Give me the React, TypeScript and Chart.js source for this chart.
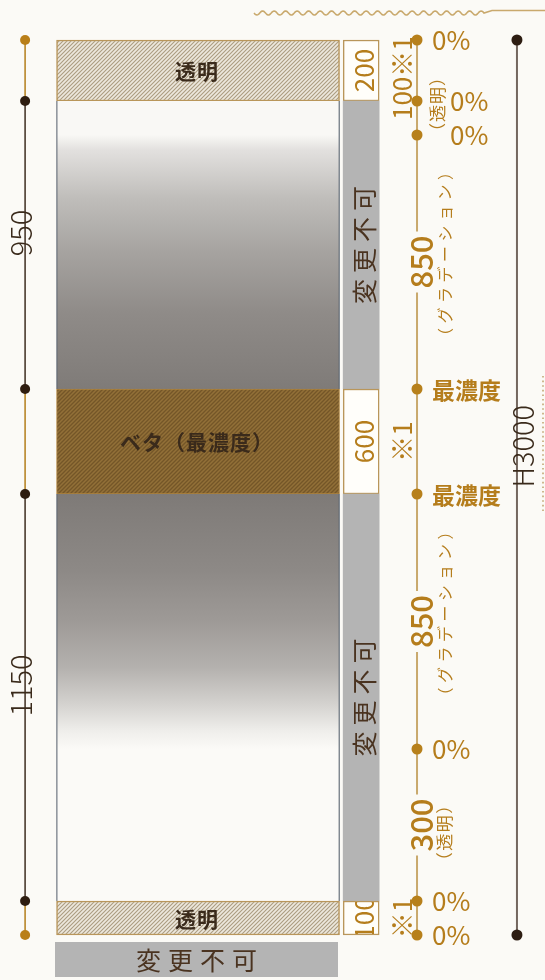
import React, { useEffect, useRef } from 'react';
import { Chart, registerables, LinearScale } from 'chart.js';

Chart.register(...registerables);

// ---------------- data (mm, top to bottom) ----------------
const panelLabels = ['透明', '', 'ベタ（最濃度）', '', '透明'];
const panelKinds = ['clear', 'fadeIn', 'solid', 'fadeOut', 'clear'];
const panelHeights = [200, 950, 600, 1150, 100];

const fixedLabels = ['200', '変更不可', '600', '変更不可', '100'];
const fixedKinds = ['box', 'gray', 'box', 'gray', 'box'];

const leftDimLabels = ['', '950', '', '1150', ''];

const stepHeights = [200, 100, 850, 600, 850, 300, 100];
const stepLabels = ['', '100※1', '850', '※1', '850', '300', '※1'];
const stepNotes = ['', '（透明）', '（グラデーション）', '', '（グラデーション）', '（透明）', ''];
const stopLabels = ['0%', '0%', '0%', '最濃度', '最濃度', '0%', '0%', '0%'];

const totalLabel = 'H3000';
const footerLabel = '変更不可';

// ---------------- layout / style ----------------
const W = 545;
const H = 980;
const TOP = 40;
const BOTTOM = 935;
// schematic (non-proportional) pixel rows of the step boundaries
const KNOT_PX = [40, 101, 135, 389, 494, 749, 901, 935];

const LEFT_DIM_X = 20;
const PANEL_X0 = 55;
const PANEL_X1 = 338;
const FIX_X0 = 345;
const FIX_X1 = 381;
const NOTE_X = 401;
const AXIS_X = 420;
const STOP_TEXT_X = 432;
const STOP_TEXT_X_SHIFTED = 450;
const NOTE2_X = 444;
const NOTE2_X_TIGHT = 437;
const H_X = 522;

const BG = '#fbfaf6';
const GOLD = '#b57d1c';
const GOLD_LINE = '#c9a96d';
const DARK = '#3a2a1b';
const GRAY = '#b4b4b4';
const FONT = '"Noto Sans CJK JP", "Noto Sans", sans-serif';

const cumsum = (a: number[]) => {
  const out = [0];
  a.forEach((v) => out.push(out[out.length - 1] + v));
  return out;
};
const panelBounds = cumsum(panelHeights);
const stepBounds = cumsum(stepHeights);
const TOTAL = stepBounds[stepBounds.length - 1];
const KNOTS = stepBounds.map((v, i) => [v, (KNOT_PX[i] - TOP) / (BOTTOM - TOP)]);

class SchematicScale extends LinearScale {
  static id = 'schematic';
  _frac(value: number): number {
    const k = KNOTS;
    for (let i = 0; i < k.length - 1; i++) {
      const [v0, f0] = k[i];
      const [v1, f1] = k[i + 1];
      if (value <= v1 || i === k.length - 2) return f0 + ((value - v0) / (v1 - v0)) * (f1 - f0);
    }
    return 0;
  }
  getPixelForValue(value: number) {
    if (value === null || value === undefined || isNaN(value)) return NaN;
    const s = this as any;
    return s.top + this._frac(value) * (s.bottom - s.top);
  }
  getValueForPixel(pixel: number) {
    const s = this as any;
    const f = (pixel - s.top) / (s.bottom - s.top);
    const k = KNOTS;
    for (let i = 0; i < k.length - 1; i++) {
      const [v0, f0] = k[i];
      const [v1, f1] = k[i + 1];
      if (f <= f1 || i === k.length - 2) return v0 + ((f - f0) / (f1 - f0)) * (v1 - v0);
    }
    return 0;
  }
}
Chart.register(SchematicScale as any);

function makeHatch(base: string, line: string, size: number, lw: number) {
  const c = document.createElement('canvas');
  c.width = size;
  c.height = size;
  const g = c.getContext('2d')!;
  g.fillStyle = base;
  g.fillRect(0, 0, size, size);
  g.strokeStyle = line;
  g.lineWidth = lw;
  g.beginPath();
  g.moveTo(0, size);
  g.lineTo(size, 0);
  g.moveTo(-size / 2, size / 2);
  g.lineTo(size / 2, -size / 2);
  g.moveTo(size / 2, size * 1.5);
  g.lineTo(size * 1.5, size / 2);
  g.stroke();
  return g.createPattern(c, 'repeat')!;
}

type TOpt = {
  font: string;
  color: string;
  rot?: boolean;
  ls?: number;
  align?: 'left' | 'center' | 'right';
  gap?: number;
  gh?: number;
};

function txt(ctx: CanvasRenderingContext2D, s: string, x: number, y: number, o: TOpt) {
  ctx.save();
  ctx.translate(x, y);
  if (o.rot) ctx.rotate(-Math.PI / 2);
  ctx.font = o.font;
  ctx.textBaseline = 'middle';
  ctx.textAlign = 'left';
  const ls = o.ls || 0;
  (ctx as any).letterSpacing = ls + 'px';
  const w = ctx.measureText(s).width - ls;
  const x0 = o.align === 'left' ? 0 : o.align === 'right' ? -w : -w / 2;
  if (o.gap) {
    ctx.fillStyle = BG;
    ctx.fillRect(x0 - o.gap, -(o.gh || 10) / 2, w + 2 * o.gap, o.gh || 10);
  }
  ctx.fillStyle = o.color;
  ctx.fillText(s, x0, 1);
  ctx.restore();
}

const bgPlugin = {
  id: 'bgPlugin',
  beforeDraw(chart: any) {
    const ctx = chart.ctx as CanvasRenderingContext2D;
    ctx.save();
    ctx.fillStyle = BG;
    ctx.fillRect(0, 0, chart.width, chart.height);
    // wavy cut line at top
    ctx.strokeStyle = GOLD_LINE;
    ctx.lineWidth = 1.6;
    ctx.beginPath();
    for (let x = 254; x <= 484; x += 1) {
      const y = 13 + 2 * Math.sin(((x - 254) / 11.5) * Math.PI * 2);
      if (x === 254) ctx.moveTo(x, y);
      else ctx.lineTo(x, y);
    }
    ctx.lineTo(492, 10.5);
    ctx.lineTo(W, 10.5);
    ctx.stroke();
    // dotted edge at far right
    ctx.strokeStyle = '#cdb88e';
    ctx.lineWidth = 2;
    ctx.setLineDash([1.6, 3]);
    ctx.beginPath();
    ctx.moveTo(543, 376);
    ctx.lineTo(543, 512);
    ctx.stroke();
    ctx.restore();
  },
};

const textPlugin = {
  id: 'textPlugin',
  afterDatasetsDraw(chart: any) {
    const ctx = chart.ctx as CanvasRenderingContext2D;
    const y = chart.scales.y;
    const ca = chart.chartArea;
    const py = (v: number) => y.getPixelForValue(v);
    const panelCx = (PANEL_X0 + PANEL_X1) / 2;
    const fixCx = (FIX_X0 + FIX_X1) / 2;

    // panel labels
    panelLabels.forEach((s, i) => {
      if (!s) return;
      const cy = (py(panelBounds[i]) + py(panelBounds[i + 1])) / 2;
      txt(ctx, s, panelCx, cy, { font: `bold 21px ${FONT}`, color: DARK, ls: 1 });
    });

    // fixed column labels
    fixedLabels.forEach((s, i) => {
      const y0 = py(panelBounds[i]);
      const y1 = py(panelBounds[i + 1]);
      const cy = (y0 + y1) / 2;
      ctx.save();
      ctx.beginPath();
      ctx.rect(FIX_X0 + 1, y0 + 1, FIX_X1 - FIX_X0 - 2, y1 - y0 - 2);
      ctx.clip();
      if (fixedKinds[i] === 'box') {
        txt(ctx, s, fixCx, cy, { font: `26px ${FONT}`, color: GOLD, rot: true });
      } else {
        txt(ctx, s, fixCx, cy, { font: `25px ${FONT}`, color: '#4a3320', rot: true, ls: 6 });
      }
      ctx.restore();
    });

    // left dimension labels
    leftDimLabels.forEach((s, i) => {
      if (!s) return;
      const cy = (py(panelBounds[i]) + py(panelBounds[i + 1])) / 2 - 12;
      txt(ctx, s, LEFT_DIM_X, cy, { font: `300 29px ${FONT}`, color: DARK, rot: true, gap: 5, gh: 8 });
    });

    // step labels on the gold axis
    stepLabels.forEach((s, i) => {
      if (!s) return;
      const y0 = py(stepBounds[i]);
      const y1 = py(stepBounds[i + 1]);
      const cy = (y0 + y1) / 2;
      if (s.indexOf('※') >= 0) {
        if (y1 - y0 < 60 && i < 3) {
          txt(ctx, s, NOTE_X, y1 - 15, { font: `26px ${FONT}`, color: GOLD, rot: true, align: 'left' });
        } else {
          txt(ctx, s, NOTE_X, cy, { font: `26px ${FONT}`, color: GOLD, rot: true });
        }
      } else {
        txt(ctx, s, AXIS_X, cy, { font: `500 31px ${FONT}`, color: GOLD, rot: true, gap: 4, gh: 8 });
      }
    });

    // notes
    stepNotes.forEach((s, i) => {
      if (!s) return;
      const y0 = py(stepBounds[i]);
      const y1 = py(stepBounds[i + 1]);
      const cy = (y0 + y1) / 2;
      if (y1 - y0 < 60) {
        txt(ctx, s, NOTE2_X_TIGHT, y1 + 5, { font: `17px ${FONT}`, color: GOLD, rot: true, align: 'left', ls: 1 });
      } else if (s.length < 6) {
        txt(ctx, s, NOTE2_X, cy + 8, { font: `17px ${FONT}`, color: GOLD, rot: true, ls: 1.5 });
      } else {
        txt(ctx, s, NOTE2_X, cy - 8, { font: `16px ${FONT}`, color: GOLD, rot: true, ls: 4.5 });
      }
    });

    // stop labels (shifted right where a short note sits beside the axis)
    stopLabels.forEach((s, i) => {
      const sy = py(stepBounds[i]);
      const crowded =
        (i > 0 && stepNotes[i - 1] && py(stepBounds[i]) - py(stepBounds[i - 1]) < 60) ||
        (stepNotes[i] && py(stepBounds[i + 1]) - py(stepBounds[i]) < 60);
      const x = crowded ? STOP_TEXT_X_SHIFTED : STOP_TEXT_X;
      if (s === '0%') txt(ctx, s, x, sy - 1, { font: `26px ${FONT}`, color: GOLD, align: 'left' });
      else txt(ctx, s, x, sy, { font: `bold 23px ${FONT}`, color: GOLD, align: 'left' });
    });

    // total height label
    txt(ctx, totalLabel, H_X, py(TOTAL / 2) - 4, { font: `300 29px ${FONT}`, color: DARK, rot: true, gap: 6, gh: 8 });

    // footer
    ctx.save();
    ctx.fillStyle = GRAY;
    ctx.fillRect(PANEL_X0, ca.bottom + 7, PANEL_X1 - PANEL_X0, 35);
    ctx.restore();
    txt(ctx, footerLabel, panelCx, ca.bottom + 24.5, { font: `25px ${FONT}`, color: '#4a3320', ls: 7 });
  },
};

export default function App() {
  const ref = useRef<HTMLCanvasElement>(null);

  useEffect(() => {
    const canvas = ref.current;
    if (!canvas) return;
    const hatchClear = makeHatch('#ede8dd', '#ab9c80', 4, 1.1);
    const hatchSolid = makeHatch('#927038', '#745628', 4, 1.3);

    const gradFor = (c: any, i: number) => {
      const chart = c.chart;
      const yS = chart.scales.y;
      if (!yS || !chart.chartArea) return '#9a9693';
      let j = stepNotes.findIndex(
        (n, k) => n === '（グラデーション）' && stepBounds[k] >= panelBounds[i] && stepBounds[k + 1] <= panelBounds[i + 1]
      );
      if (j < 0) j = 0;
      const g = chart.ctx.createLinearGradient(0, yS.getPixelForValue(stepBounds[j]), 0, yS.getPixelForValue(stepBounds[j + 1]));
      if (panelKinds[i] === 'fadeIn') {
        g.addColorStop(0, '#f9f8f5');
        g.addColorStop(0.06, '#e2e0de');
        g.addColorStop(0.25, '#bfbdba');
        g.addColorStop(0.45, '#a7a4a1');
        g.addColorStop(0.7, '#8f8b88');
        g.addColorStop(1, '#7f7b78');
      } else {
        g.addColorStop(0, '#7e7a77');
        g.addColorStop(0.3, '#8d8986');
        g.addColorStop(0.5, '#9e9a97');
        g.addColorStop(0.68, '#b4b1ae');
        g.addColorStop(0.82, '#d3d1ce');
        g.addColorStop(0.93, '#efeeeb');
        g.addColorStop(1, '#fbfaf7');
      }
      return g;
    };

    const panelCx = (PANEL_X0 + PANEL_X1) / 2;
    const fixCx = (FIX_X0 + FIX_X1) / 2;

    const chart = new Chart(canvas, {
      type: 'bar',
      data: {
        datasets: [
          {
            type: 'line',
            label: 'left-dim',
            data: panelBounds.map((v) => ({ x: LEFT_DIM_X, y: v })),
            borderWidth: 1.6,
            borderColor: DARK,
            segment: {
              borderColor: (c: any) => (leftDimLabels[c.p0DataIndex] ? '#4a3a2e' : '#b8862a'),
            },
            pointRadius: 5,
            pointBorderWidth: 0,
            pointBackgroundColor: panelBounds.map((_, i) => (i === 0 || i === panelBounds.length - 1 ? '#b97f18' : '#2e1d10')),
            tension: 0,
            clip: false,
            order: 0,
          } as any,
          {
            type: 'line',
            label: 'steps',
            data: stepBounds.map((v) => ({ x: AXIS_X, y: v })),
            borderWidth: 2,
            borderColor: GOLD_LINE,
            pointRadius: 5.5,
            pointBorderWidth: 0,
            pointBackgroundColor: '#b7801b',
            tension: 0,
            clip: false,
            order: 0,
          } as any,
          {
            type: 'line',
            label: 'total',
            data: [0, TOTAL].map((v) => ({ x: H_X, y: v })),
            borderWidth: 2,
            borderColor: '#74675f',
            pointRadius: 5.5,
            pointBorderWidth: 0,
            pointBackgroundColor: '#2d1d12',
            clip: false,
            order: 0,
          } as any,
          {
            label: 'panel',
            data: panelHeights.map((_, i) => ({ x: panelCx, y: [panelBounds[i], panelBounds[i + 1]] })) as any,
            barThickness: PANEL_X1 - PANEL_X0,
            grouped: false,
            borderSkipped: false,
            backgroundColor: (c: any) => {
              const k = panelKinds[c.dataIndex];
              if (k === 'clear') return hatchClear;
              if (k === 'solid') return hatchSolid;
              return gradFor(c, c.dataIndex);
            },
            borderColor: (c: any) => {
              const k = panelKinds[c.dataIndex];
              if (k === 'clear') return '#b9965a';
              if (k === 'solid') return '#b08540';
              return '#58626e';
            },
            borderWidth: (c: any) => {
              const k = panelKinds[c.dataIndex];
              if (k === 'clear') return 1.5;
              if (k === 'solid') return 1;
              return { left: 1.2, right: 1.2, top: 0, bottom: 0 };
            },
            clip: false,
            order: 1,
          } as any,
          {
            label: 'fixed',
            data: fixedKinds.map((_, i) => ({ x: fixCx, y: [panelBounds[i], panelBounds[i + 1]] })) as any,
            barThickness: FIX_X1 - FIX_X0,
            grouped: false,
            borderSkipped: false,
            backgroundColor: (c: any) => (fixedKinds[c.dataIndex] === 'box' ? '#fffefa' : GRAY),
            borderColor: '#b9965a',
            borderWidth: (c: any) => (fixedKinds[c.dataIndex] === 'box' ? 1.5 : 0),
            clip: false,
            order: 1,
          } as any,
        ],
      },
      options: {
        animation: false,
        responsive: false,
        events: [],
        layout: { padding: { top: TOP, bottom: H - BOTTOM, left: 0, right: 0 } },
        plugins: { legend: { display: false }, tooltip: { enabled: false } },
        scales: {
          x: { type: 'linear', min: 0, max: W, display: false, offset: false, grid: { display: false } },
          y: { type: 'schematic', min: 0, max: TOTAL, display: false, stacked: false, grid: { display: false } } as any,
        },
      },
      plugins: [bgPlugin, textPlugin],
    });

    return () => chart.destroy();
  }, []);

  return (
    <div style={{ position: 'absolute', left: 0, top: 0, width: W, height: H, background: BG }}>
      <canvas ref={ref} width={W} height={H} style={{ width: W, height: H, display: 'block' }} />
    </div>
  );
}
